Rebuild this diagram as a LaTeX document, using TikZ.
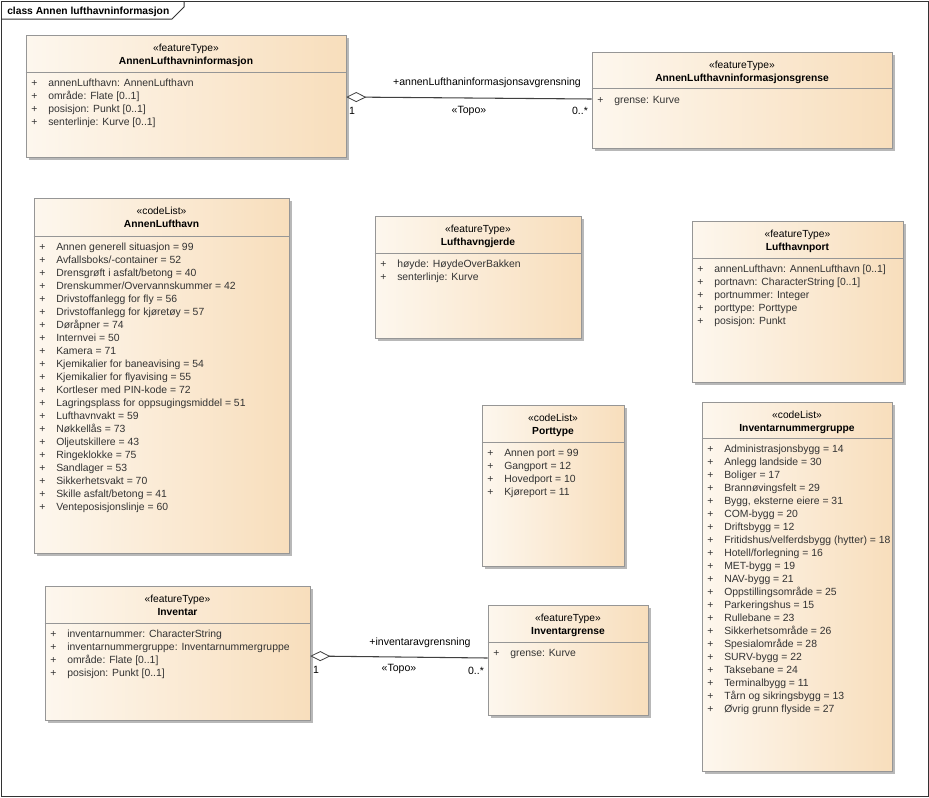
\documentclass[tikz,border=0pt]{standalone}
\usepackage{fontspec}
\setmainfont{Liberation Sans}
\usetikzlibrary{fit,shadows,arrows.meta}
\definecolor{boxleft}{RGB}{253,247,238}
\definecolor{boxright}{RGB}{248,222,188}
\definecolor{boxline}{RGB}{150,150,150}
\newcommand{\plusattr}{\makebox[12.75pt][l]{+}}

\begin{document}
\begin{tikzpicture}[x=0.75pt, y=-0.75pt,
    classbox/.style={draw=boxline, left color=boxleft, right color=boxright, inner sep=0pt,
        drop shadow={shadow xshift=2.25pt, shadow yshift=-2.25pt, fill=black!28, opacity=1}},
    stereo/.style={font=\fontsize{7.7}{9}\selectfont, inner sep=0pt, anchor=base},
    cname/.style={font=\fontsize{7.7}{9}\selectfont\bfseries, inner sep=0pt, anchor=base},
    attr/.style={font=\fontsize{7.8}{9}\selectfont, inner sep=0pt, anchor=base west, text=black!80},
    lbl/.style={font=\fontsize{7.9}{9}\selectfont, inner sep=0pt, anchor=base},
    sepline/.style={draw=boxline},
    aggr/.style={draw=black!75, line width=0.8pt, {Diamond[open, fill=white, length=15pt, width=7.5pt, line width=0.6pt]}-}]
\useasboundingbox (0,0) rectangle (929,797);
\draw[black!80, line width=0.75pt] (1,1) rectangle (928,796);
\draw[black!80, line width=0.75pt] (1,19) -- (172,19) -- (184,7) -- (184,1);
\node[font=\fontsize{7.7}{9}\selectfont\bfseries, inner sep=0pt, anchor=base west] (ramme) at (7,14) {class Annen lufthavninformasjon};

\node[classbox, fit={(26,35) (346,157)}] (info) {};
\node[stereo] (info-s) at (info.north |- 0,51) {«featureType»};
\node[cname] (info-n) at (info.north |- 0,64) {AnnenLufthavninformasjon};
\draw[sepline] (info.west |- 0,72) -- (info.east |- 0,72);
\node[attr] (info-a1) at (31,86) {\plusattr annenLufthavn: AnnenLufthavn};
\node[attr] (info-a2) at (31,99) {\plusattr område: Flate [0..1]};
\node[attr] (info-a3) at (31,112) {\plusattr posisjon: Punkt [0..1]};
\node[attr] (info-a4) at (31,125) {\plusattr senterlinje: Kurve [0..1]};

\node[classbox, fit={(592,52) (892,148)}] (grense) {};
\node[stereo] (grense-s) at (grense.north |- 0,68) {«featureType»};
\node[cname] (grense-n) at (grense.north |- 0,81) {AnnenLufthavninformasjonsgrense};
\draw[sepline] (grense.west |- 0,88) -- (grense.east |- 0,88);
\node[attr] (grense-a1) at (597,103) {\plusattr grense: Kurve};

\node[classbox, fit={(34,198) (289,553)}] (annen) {};
\node[stereo] (annen-s) at (annen.north |- 0,214) {«codeList»};
\node[cname] (annen-n) at (annen.north |- 0,227) {AnnenLufthavn};
\draw[sepline] (annen.west |- 0,236) -- (annen.east |- 0,236);
\node[attr] (annen-a1) at (39,250) {\plusattr Annen generell situasjon = 99};
\node[attr] (annen-a2) at (39,263) {\plusattr Avfallsboks/-container = 52};
\node[attr] (annen-a3) at (39,276) {\plusattr Drensgrøft i asfalt/betong = 40};
\node[attr] (annen-a4) at (39,289) {\plusattr Drenskummer/Overvannskummer = 42};
\node[attr] (annen-a5) at (39,302) {\plusattr Drivstoffanlegg for fly = 56};
\node[attr] (annen-a6) at (39,315) {\plusattr Drivstoffanlegg for kjøretøy = 57};
\node[attr] (annen-a7) at (39,328) {\plusattr Døråpner = 74};
\node[attr] (annen-a8) at (39,341) {\plusattr Internvei = 50};
\node[attr] (annen-a9) at (39,354) {\plusattr Kamera = 71};
\node[attr] (annen-a10) at (39,367) {\plusattr Kjemikalier for baneavising = 54};
\node[attr] (annen-a11) at (39,380) {\plusattr Kjemikalier for flyavising = 55};
\node[attr] (annen-a12) at (39,393) {\plusattr Kortleser med PIN-kode = 72};
\node[attr] (annen-a13) at (39,406) {\plusattr Lagringsplass for oppsugingsmiddel = 51};
\node[attr] (annen-a14) at (39,419) {\plusattr Lufthavnvakt = 59};
\node[attr] (annen-a15) at (39,432) {\plusattr Nøkkellås = 73};
\node[attr] (annen-a16) at (39,445) {\plusattr Oljeutskillere = 43};
\node[attr] (annen-a17) at (39,458) {\plusattr Ringeklokke = 75};
\node[attr] (annen-a18) at (39,471) {\plusattr Sandlager = 53};
\node[attr] (annen-a19) at (39,484) {\plusattr Sikkerhetsvakt = 70};
\node[attr] (annen-a20) at (39,497) {\plusattr Skille asfalt/betong = 41};
\node[attr] (annen-a21) at (39,510) {\plusattr Venteposisjonslinje = 60};

\node[classbox, fit={(375,216) (581,338)}] (gjerde) {};
\node[stereo] (gjerde-s) at (gjerde.north |- 0,232) {«featureType»};
\node[cname] (gjerde-n) at (gjerde.north |- 0,245) {Lufthavngjerde};
\draw[sepline] (gjerde.west |- 0,253) -- (gjerde.east |- 0,253);
\node[attr] (gjerde-a1) at (380,267) {\plusattr høyde: HøydeOverBakken};
\node[attr] (gjerde-a2) at (380,280) {\plusattr senterlinje: Kurve};

\node[classbox, fit={(692,221) (903,382)}] (port) {};
\node[stereo] (port-s) at (port.north |- 0,237) {«featureType»};
\node[cname] (port-n) at (port.north |- 0,250) {Lufthavnport};
\draw[sepline] (port.west |- 0,258) -- (port.east |- 0,258);
\node[attr] (port-a1) at (697,272) {\plusattr annenLufthavn: AnnenLufthavn [0..1]};
\node[attr] (port-a2) at (697,285) {\plusattr portnavn: CharacterString [0..1]};
\node[attr] (port-a3) at (697,298) {\plusattr portnummer: Integer};
\node[attr] (port-a4) at (697,311) {\plusattr porttype: Porttype};
\node[attr] (port-a5) at (697,324) {\plusattr posisjon: Punkt};

\node[classbox, fit={(482,405) (624,566)}] (porttype) {};
\node[stereo] (porttype-s) at (porttype.north |- 0,421) {«codeList»};
\node[cname] (porttype-n) at (porttype.north |- 0,434) {Porttype};
\draw[sepline] (porttype.west |- 0,442) -- (porttype.east |- 0,442);
\node[attr] (porttype-a1) at (487,456) {\plusattr Annen port = 99};
\node[attr] (porttype-a2) at (487,469) {\plusattr Gangport = 12};
\node[attr] (porttype-a3) at (487,482) {\plusattr Hovedport = 10};
\node[attr] (porttype-a4) at (487,495) {\plusattr Kjøreport = 11};

\node[classbox, fit={(702,402) (892,771)}] (gruppe) {};
\node[stereo] (gruppe-s) at (gruppe.north |- 0,418) {«codeList»};
\node[cname] (gruppe-n) at (gruppe.north |- 0,431) {Inventarnummergruppe};
\draw[sepline] (gruppe.west |- 0,438) -- (gruppe.east |- 0,438);
\node[attr] (gruppe-a1) at (707,452) {\plusattr Administrasjonsbygg = 14};
\node[attr] (gruppe-a2) at (707,465) {\plusattr Anlegg landside = 30};
\node[attr] (gruppe-a3) at (707,478) {\plusattr Boliger = 17};
\node[attr] (gruppe-a4) at (707,491) {\plusattr Brannøvingsfelt = 29};
\node[attr] (gruppe-a5) at (707,504) {\plusattr Bygg, eksterne eiere = 31};
\node[attr] (gruppe-a6) at (707,517) {\plusattr COM-bygg = 20};
\node[attr] (gruppe-a7) at (707,530) {\plusattr Driftsbygg = 12};
\node[attr] (gruppe-a8) at (707,543) {\plusattr Fritidshus/velferdsbygg (hytter) = 18};
\node[attr] (gruppe-a9) at (707,556) {\plusattr Hotell/forlegning = 16};
\node[attr] (gruppe-a10) at (707,569) {\plusattr MET-bygg = 19};
\node[attr] (gruppe-a11) at (707,582) {\plusattr NAV-bygg = 21};
\node[attr] (gruppe-a12) at (707,595) {\plusattr Oppstillingsområde = 25};
\node[attr] (gruppe-a13) at (707,608) {\plusattr Parkeringshus = 15};
\node[attr] (gruppe-a14) at (707,621) {\plusattr Rullebane = 23};
\node[attr] (gruppe-a15) at (707,634) {\plusattr Sikkerhetsområde = 26};
\node[attr] (gruppe-a16) at (707,647) {\plusattr Spesialområde = 28};
\node[attr] (gruppe-a17) at (707,660) {\plusattr SURV-bygg = 22};
\node[attr] (gruppe-a18) at (707,673) {\plusattr Taksebane = 24};
\node[attr] (gruppe-a19) at (707,686) {\plusattr Terminalbygg = 11};
\node[attr] (gruppe-a20) at (707,699) {\plusattr Tårn og sikringsbygg = 13};
\node[attr] (gruppe-a21) at (707,712) {\plusattr Øvrig grunn flyside = 27};

\node[classbox, fit={(45,586) (310,720)}] (inventar) {};
\node[stereo] (inventar-s) at (inventar.north |- 0,602) {«featureType»};
\node[cname] (inventar-n) at (inventar.north |- 0,615) {Inventar};
\draw[sepline] (inventar.west |- 0,623) -- (inventar.east |- 0,623);
\node[attr] (inventar-a1) at (50,637) {\plusattr inventarnummer: CharacterString};
\node[attr] (inventar-a2) at (50,650) {\plusattr inventarnummergruppe: Inventarnummergruppe};
\node[attr] (inventar-a3) at (50,663) {\plusattr område: Flate [0..1]};
\node[attr] (inventar-a4) at (50,676) {\plusattr posisjon: Punkt [0..1]};

\node[classbox, fit={(488,605) (648,715)}] (invgrense) {};
\node[stereo] (invgrense-s) at (invgrense.north |- 0,621) {«featureType»};
\node[cname] (invgrense-n) at (invgrense.north |- 0,634) {Inventargrense};
\draw[sepline] (invgrense.west |- 0,642) -- (invgrense.east |- 0,642);
\node[attr] (invgrense-a1) at (493,656) {\plusattr grense: Kurve};

\draw[aggr] (info.east |- 0,97) -- (grense.west |- 0,99);
\node[lbl] (rolle1) at (487,85) {+annenLufthaninformasjonsavgrensning};
\node[lbl] (topo1) at (469,113) {«Topo»};
\node[lbl] (mult1a) at (352,114) {1};
\node[lbl] (mult1b) at (580,114) {0..*};

\draw[aggr] (inventar.east |- 0,656) -- (invgrense.west |- 0,658);
\node[lbl] (rolle2) at (420,645) {+inventaravgrensning};
\node[lbl] (topo2) at (399,671) {«Topo»};
\node[lbl] (mult2a) at (316,673) {1};
\node[lbl] (mult2b) at (476,674) {0..*};
\end{tikzpicture}
\end{document}
